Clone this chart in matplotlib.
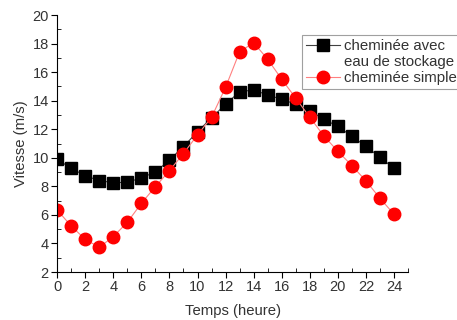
import matplotlib.pyplot as plt
from matplotlib.lines import Line2D
from matplotlib.ticker import MultipleLocator

plt.rcParams['font.family'] = ['Liberation Sans', 'DejaVu Sans']

heures = list(range(25))
avec_stockage = [9.9, 9.26, 8.75, 8.4, 8.26, 8.28, 8.6, 9.0, 9.85, 10.78,
                 11.83, 12.8, 13.75, 14.63, 14.75, 14.4, 14.1, 13.75, 13.3,
                 12.7, 12.2, 11.5, 10.8, 10.03, 9.26]
simple = [6.35, 5.22, 4.29, 3.73, 4.48, 5.48, 6.81, 7.98, 9.1, 10.3,
          11.6, 12.84, 14.94, 17.43, 18.06, 16.9, 15.5, 14.17, 12.84,
          11.53, 10.45, 9.45, 8.38, 7.16, 6.04]

fig = plt.figure(figsize=(4.57, 3.2), dpi=100)
ax = fig.add_axes([0.125, 0.15, 0.768, 0.803])

ax.plot(heures, avec_stockage, '-', color='#404040', lw=0.8,
        marker='s', ms=8, mfc='black', mec='black')
ax.plot(heures, simple, '-', color='#ff8080', lw=0.8,
        marker='o', ms=9, mfc='#ff0000', mec='#ff0000')

ax.set_xlim(0, 25)
ax.set_ylim(2, 20)
ax.xaxis.set_major_locator(MultipleLocator(2))
ax.xaxis.set_minor_locator(MultipleLocator(1))
ax.yaxis.set_major_locator(MultipleLocator(2))
ax.yaxis.set_minor_locator(MultipleLocator(1))
ax.tick_params(which='major', direction='out', length=4, labelsize=10.5, pad=2,
               labelcolor='#333333')
ax.tick_params(which='minor', direction='in', length=3)
ax.spines['top'].set_visible(False)
ax.spines['right'].set_visible(False)
ax.set_xticks(range(0, 25, 2))

ax.set_xlabel('Temps (heure)', fontsize=10.7, labelpad=7, color='#333333')
ax.set_ylabel('Vitesse (m/s)', fontsize=10.7, labelpad=3, color='#333333')

handles = [
    Line2D([], [], color='#404040', lw=0.8, marker='s', ms=8, mfc='black', mec='black'),
    Line2D([], [], color='none'),
    Line2D([], [], color='#ff8080', lw=0.8, marker='o', ms=9, mfc='#ff0000', mec='#ff0000'),
]
labels = ['cheminée avec', 'eau de stockage', 'cheminée simple']
leg = fig.legend(handles, labels, loc='upper left', bbox_to_anchor=(0.661, 0.89),
                 fontsize=10.8, frameon=True, fancybox=False, handlelength=2.3,
                 handletextpad=0.25, labelspacing=0.15, borderpad=0.25,
                 borderaxespad=0)
for t in leg.get_texts():
    t.set_color('#333333')
leg.get_frame().set_edgecolor('#888888')
leg.get_frame().set_linewidth(0.8)

fig.savefig('out.png', dpi=100)
